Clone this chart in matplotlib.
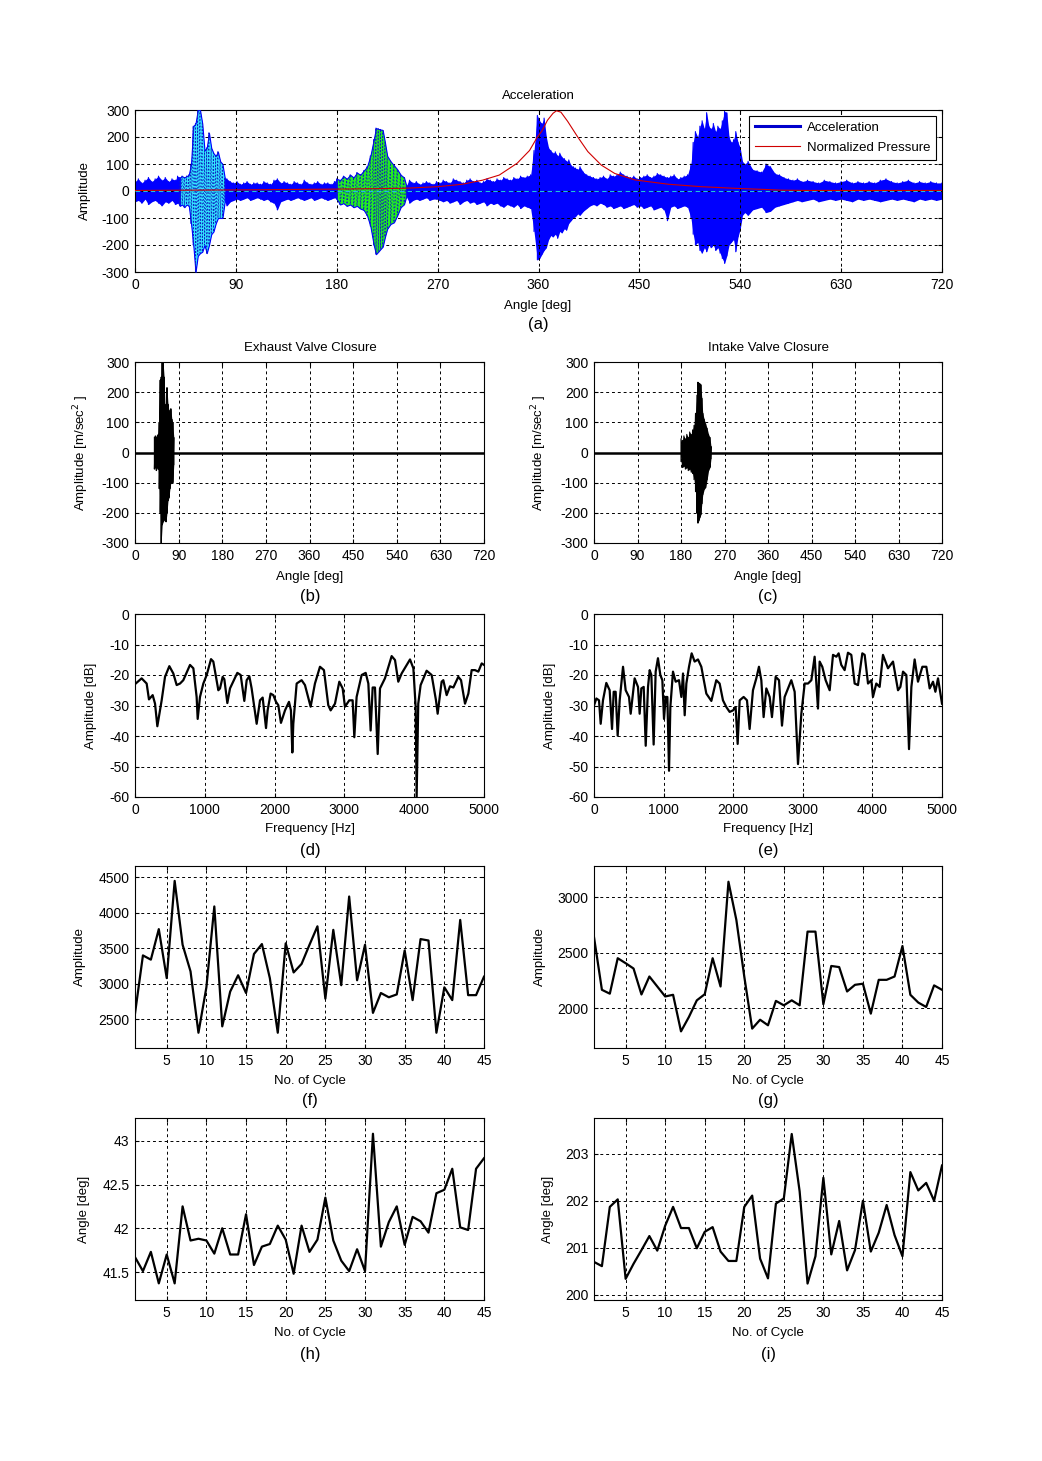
import numpy as np
import matplotlib
matplotlib.use("Agg")
import matplotlib.pyplot as plt
from matplotlib.lines import Line2D
from matplotlib.ticker import FormatStrFormatter

plt.rcParams['font.family'] = ['Liberation Sans', 'DejaVu Sans']
plt.rcParams['axes.unicode_minus'] = False
plt.rcParams['font.size'] = 9

# ---------------- data: panel (a) acceleration envelope ----------------
q1_angle = [0, 3, 6, 9, 12, 15, 18, 21, 24, 27, 30, 33, 36, 38]
q1_upper = [35, 45, 30, 40, 50, 35, 45, 55, 40, 50, 35, 45, 40, 55]
q1_lower = [-40, -35, -45, -30, -50, -40, -35, -45, -55, -40, -45, -35, -50, -45]

# exhaust valve closure window (also panel b)
evc_angle = [40, 42, 44, 46, 48, 50, 52, 54, 56, 58, 60, 62, 64, 66, 68, 70, 72, 74, 76, 78, 80]
evc_upper = [50, 55, 50, 55, 60, 100, 240, 250, 300, 300, 250, 150, 160, 215, 160, 140, 130, 145, 110, 100, 50]
evc_lower = [-55, -50, -60, -50, -55, -120, -200, -300, -240, -230, -225, -200, -230, -200, -160, -150, -120, -100, -100, -100, -40]

q2_angle = [82, 85, 88, 91, 94, 97, 100, 103, 106, 109,
            112, 115, 118, 121, 124, 127, 130, 133, 136, 139,
            142, 145, 148, 151, 154, 157, 160, 163, 166, 169,
            172, 175, 178]
q2_upper = [45, 35, 30, 35, 25, 30, 35, 25, 30, 30,
            25, 35, 30, 25, 40, 45, 30, 35, 30, 25,
            35, 30, 25, 40, 30, 25, 30, 35, 25, 30,
            30, 25, 35]
q2_lower = [-55, -40, -35, -30, -35, -30, -25, -35, -30, -25,
            -30, -35, -30, -40, -45, -70, -40, -35, -30, -35,
            -30, -25, -30, -35, -30, -25, -35, -30, -25, -30,
            -35, -30, -25]

# intake valve closure window (also panel c)
ivc_angle = [180, 183, 186, 189, 192, 195, 198, 201, 204, 207, 210, 213, 215, 217, 219, 221, 223, 225, 228, 231, 234, 237, 240, 242]
ivc_upper = [45, 40, 55, 45, 60, 50, 68, 60, 75, 90, 130, 190, 233, 230, 228, 225, 180, 130, 110, 95, 80, 60, 50, 20]
ivc_lower = [-30, -50, -45, -55, -50, -60, -55, -65, -70, -90, -130, -200, -234, -225, -215, -206, -170, -140, -122, -116, -90, -60, -49, -20]

q3_angle = [245, 248, 251, 254, 257, 260, 263, 266, 269, 272,
            275, 278, 281, 284, 287, 290, 293, 296, 299, 302,
            305, 308, 311, 314, 317, 320, 323, 326, 329, 332,
            335, 338, 341, 344, 347, 350, 353, 356]
q3_upper = [40, 30, 35, 25, 30, 35, 30, 25, 35, 30,
            40, 35, 30, 45, 40, 35, 30, 40, 45, 35,
            40, 30, 35, 45, 40, 35, 45, 40, 50, 45,
            40, 50, 45, 55, 50, 55, 60, 150]
q3_lower = [-45, -35, -30, -35, -30, -25, -35, -30, -30, -35,
            -40, -35, -45, -40, -35, -50, -40, -35, -45, -40,
            -50, -45, -40, -55, -45, -50, -45, -55, -60, -50,
            -55, -60, -50, -65, -55, -60, -65, -150]

b1_angle = [359, 361, 363, 365, 367, 369, 371, 373, 375, 377,
            379, 381, 383, 385, 387, 389, 391, 393, 395, 397,
            400, 403, 406, 409, 412, 415, 418, 421, 424, 427,
            430, 433, 436, 439, 442, 445, 448, 451, 454, 457,
            460, 463, 466, 469, 472, 475, 478, 481, 484, 487,
            490, 493, 496]
b1_upper = [280, 260, 250, 270, 200, 160, 150, 140, 145, 130,
            140, 125, 120, 110, 115, 95, 90, 85, 80, 90,
            70, 60, 55, 50, 45, 50, 55, 45, 60, 55,
            60, 70, 60, 55, 50, 55, 45, 50, 55, 60,
            50, 55, 65, 60, 55, 50, 55, 60, 45, 50,
            55, 60, 100]
b1_lower = [-255, -250, -235, -220, -210, -180, -165, -170, -160, -175,
            -150, -155, -140, -145, -120, -110, -100, -95, -85, -90,
            -75, -65, -55, -50, -55, -45, -50, -60, -55, -65,
            -60, -55, -65, -60, -55, -50, -60, -55, -65, -60,
            -55, -70, -65, -60, -70, -110, -60, -55, -65, -60,
            -55, -60, -100]

b2_angle = [498, 500, 502, 504, 506, 508, 510, 512, 514, 516,
            518, 520, 522, 524, 526, 528, 530, 532, 534, 536,
            538, 540, 542, 544]
b2_upper = [180, 220, 200, 240, 260, 230, 290, 240, 230, 250,
            220, 240, 230, 260, 295, 290, 200, 180, 190, 220,
            180, 160, 110, 100]
b2_lower = [-160, -200, -190, -220, -230, -210, -225, -200, -210, -200,
            -220, -210, -230, -250, -268, -240, -200, -190, -180, -225,
            -170, -140, -90, -80]

q4_angle = [547, 551, 555, 559, 563, 567, 571, 575, 579, 583,
            587, 591, 595, 600, 605, 610, 615, 620, 625, 630,
            635, 640, 645, 650, 655, 660, 665, 670, 675, 680,
            685, 690, 695, 700, 705, 710, 715, 720]
q4_upper = [110, 80, 75, 70, 100, 90, 65, 60, 50, 45,
            40, 45, 35, 40, 35, 30, 40, 35, 30, 35,
            40, 30, 35, 30, 35, 30, 40, 45, 35, 30,
            35, 40, 30, 35, 30, 35, 30, 30]
q4_lower = [-90, -70, -65, -60, -80, -75, -60, -55, -50, -45,
            -40, -35, -40, -35, -30, -40, -35, -30, -35, -30,
            -35, -40, -30, -35, -30, -35, -40, -35, -30, -35,
            -30, -35, -40, -30, -35, -30, -35, -30]

# normalized pressure
p_angle = [0, 90, 180, 240, 270, 292, 310, 325, 341, 352, 359, 363, 368, 373, 376, 380, 386, 395, 404, 416, 428, 446, 476, 505, 535, 560, 577, 600, 720]
p_value = [2, 4, 7, 10, 16, 25, 40, 59, 103, 150, 200, 222, 262, 288, 297, 292, 258, 200, 146, 96, 65, 41, 25, 16, 10, 6, 3, 2, 2]

# ---------------- panels d, e: spectra ----------------
d_freq = [0, 95, 167, 200, 253, 287, 320, 382, 430, 492, 549, 597, 645, 692, 788, 836, 883, 898, 931, 979,
          1027, 1089, 1122, 1194, 1218, 1256, 1280, 1323, 1361, 1466, 1514, 1566, 1600, 1638, 1671, 1743, 1791, 1829, 1877, 1900,
          1943, 1982, 2020, 2053, 2091, 2149, 2206, 2234, 2254, 2268, 2316, 2387, 2435, 2516, 2578, 2650, 2707, 2769, 2803, 2865,
          2927, 2975, 3008, 3070, 3118, 3142, 3175, 3247, 3305, 3343, 3376, 3405, 3438, 3477, 3510, 3581, 3677, 3725, 3772, 3820,
          3940, 3988, 4021, 4035, 4058, 4092, 4178, 4250, 4312, 4336, 4393, 4417, 4465, 4513, 4561, 4632, 4671, 4728, 4776, 4823,
          4871, 4919, 4967, 5000]
d_db = [-23.0, -21.1, -22.8, -28.0, -26.6, -29.4, -36.8, -28.3, -20.6, -17.1, -19.5, -23.3, -22.8, -21.7, -16.7, -17.8, -27.2, -34.4, -27.2, -22.8,
        -20.0, -14.8, -15.6, -25.0, -24.4, -20.6, -21.4, -29.2, -24.4, -19.3, -20.0, -28.5, -21.7, -20.4, -24.4, -36.0, -28.3, -27.4, -37.4, -31.6,
        -26.1, -26.6, -28.8, -29.9, -35.7, -31.6, -28.8, -31.6, -45.4, -36.0, -22.8, -21.7, -23.3, -30.4, -22.8, -17.3, -18.4, -29.9, -31.6, -29.4,
        -22.2, -24.4, -30.4, -28.3, -28.3, -40.4, -27.2, -20.0, -19.3, -22.8, -38.2, -24.1, -24.1, -45.9, -24.4, -21.1, -13.8, -15.1, -22.2, -19.5,
        -14.9, -17.8, -30.5, -60.0, -29.4, -23.3, -18.6, -20.0, -28.3, -32.7, -22.2, -21.7, -26.6, -23.7, -24.1, -20.6, -21.7, -29.4, -26.1, -18.4,
        -18.4, -18.9, -16.2, -16.7]

e_freq = [0, 34, 72, 96, 129, 177, 225, 259, 283, 311, 340, 369, 417, 455, 503, 527, 584, 632, 656, 680,
          714, 743, 776, 800, 824, 857, 886, 919, 953, 982, 1006, 1030, 1054, 1078, 1097, 1135, 1173, 1221, 1255, 1279,
          1303, 1327, 1365, 1403, 1446, 1494, 1542, 1614, 1686, 1757, 1805, 1853, 1901, 1949, 1997, 2035, 2064, 2093, 2150, 2198,
          2236, 2284, 2332, 2370, 2404, 2437, 2476, 2524, 2557, 2610, 2658, 2701, 2739, 2835, 2883, 2931, 2979, 3027, 3075, 3123,
          3170, 3218, 3242, 3280, 3328, 3386, 3434, 3482, 3515, 3553, 3601, 3649, 3697, 3745, 3793, 3855, 3889, 3937, 3985, 4008,
          4056, 4104, 4152, 4224, 4296, 4368, 4402, 4440, 4488, 4526, 4560, 4607, 4655, 4718, 4775, 4823, 4871, 4905, 4943, 5000]
e_db = [-30.0, -27.7, -28.3, -36.0, -28.3, -22.6, -25.0, -37.7, -25.5, -25.5, -39.9, -28.3, -17.3, -25.0, -27.2, -32.7, -21.1, -23.9, -32.7, -24.4,
        -23.9, -43.2, -23.9, -18.4, -20.0, -42.8, -18.9, -14.5, -20.0, -21.7, -34.4, -27.2, -27.2, -51.4, -30.5, -18.9, -22.2, -21.7, -27.2, -19.5,
        -33.2, -22.8, -17.3, -12.9, -15.6, -14.9, -17.3, -26.1, -28.5, -21.7, -22.8, -28.3, -30.5, -32.1, -31.6, -30.5, -42.6, -28.3, -27.2, -28.3,
        -37.7, -25.0, -21.1, -17.3, -21.7, -33.8, -24.4, -27.2, -33.8, -20.6, -21.7, -36.6, -27.2, -21.7, -25.5, -49.2, -32.7, -22.8, -22.8, -21.7,
        -14.0, -31.0, -15.6, -17.3, -21.7, -25.0, -13.4, -14.0, -12.9, -16.7, -18.4, -12.7, -13.4, -22.8, -23.3, -12.9, -13.4, -22.8, -21.7, -27.2,
        -22.8, -23.9, -13.4, -17.8, -15.6, -25.0, -23.9, -18.9, -20.0, -44.3, -23.9, -14.9, -22.2, -17.3, -17.3, -24.4, -22.2, -25.5, -21.1, -29.4]

# ---------------- panels f-i: per cycle ----------------
cycles = list(range(1, 46))
f_amp = [2580, 3400, 3340, 3770, 3080, 4450, 3550, 3175, 2310, 2950,
         4090, 2400, 2890, 3120, 2870, 3420, 3560, 3080, 2310, 3570,
         3160, 3280, 3550, 3810, 2790, 3760, 2980, 4230, 3050, 3550,
         2590, 2870, 2810, 2850, 3470, 2770, 3630, 3610, 2310, 2950,
         2770, 3900, 2840, 2840, 3100]
g_amp = [2640, 2165, 2130, 2450, 2405, 2357, 2123, 2285, 2195, 2105,
         2120, 1790, 1920, 2070, 2125, 2450, 2195, 3140, 2795, 2285,
         1815, 1895, 1845, 2065, 2025, 2070, 2025, 2690, 2690, 2035,
         2380, 2370, 2150, 2210, 2220, 1950, 2255, 2255, 2285, 2560,
         2120, 2050, 2010, 2205, 2165]
h_ang = [41.67, 41.51, 41.73, 41.37, 41.70, 41.37, 42.25, 41.86, 41.88, 41.86,
         41.71, 42.00, 41.70, 41.70, 42.16, 41.58, 41.79, 41.82, 42.03, 41.87,
         41.48, 42.03, 41.73, 41.87, 42.35, 41.86, 41.63, 41.51, 41.76, 41.51,
         43.08, 41.79, 42.07, 42.25, 41.81, 42.13, 42.08, 41.95, 42.40, 42.44,
         42.68, 42.01, 41.98, 42.68, 42.80]
i_ang = [200.70, 200.61, 201.87, 202.03, 200.34, 200.66, 200.95, 201.25, 200.94, 201.47,
         201.87, 201.42, 201.42, 200.99, 201.34, 201.44, 200.92, 200.72, 200.72, 201.87,
         202.11, 200.77, 200.35, 201.94, 202.05, 203.42, 202.20, 200.24, 200.82, 202.49,
         200.86, 201.57, 200.52, 200.95, 202.00, 200.92, 201.32, 201.91, 201.27, 200.82,
         202.61, 202.22, 202.38, 202.00, 202.75]

angle_ticks = [0, 90, 180, 270, 360, 450, 540, 630, 720]
amp_ticks = [-300, -200, -100, 0, 100, 200, 300]

# ---------------- figure ----------------
W, H = 1042, 1461
fig = plt.figure(figsize=(W / 100, H / 100), dpi=100)
TICK_FS = 10
LAB_FS = 9.5


def add_ax(l, t, r, b):
    return fig.add_axes([l / W, 1 - b / H, (r - l) / W, (b - t) / H])


def ftext(x, y, s, **kw):
    fig.text(x / W, 1 - y / H, s, ha='center', va='center', **kw)


def style(ax, l, r, ylab_x):
    ax.grid(True, color='black', linestyle=(0, (3, 3)), linewidth=0.7)
    ax.set_axisbelow(False)
    ax.tick_params(direction='in', length=3, top=True, right=True, labelsize=TICK_FS, pad=4)
    for sp in ax.spines.values():
        sp.set_linewidth(0.8)
    ax.yaxis.set_label_coords((ylab_x - l) / (r - l), 0.5)


def zig(a, u, lo):
    x = np.repeat(np.asarray(a, float), 2)
    y = np.empty(2 * len(a))
    y[0::2] = u
    y[1::2] = lo
    return x, y


# ---- (a)
ax = add_ax(135, 110, 942, 272)
acc_angle = q1_angle + evc_angle + q2_angle + ivc_angle + q3_angle + b1_angle + b2_angle + q4_angle
acc_upper = q1_upper + evc_upper + q2_upper + ivc_upper + q3_upper + b1_upper + b2_upper + q4_upper
acc_lower = q1_lower + evc_lower + q2_lower + ivc_lower + q3_lower + b1_lower + b2_lower + q4_lower

ax.fill_between(acc_angle, acc_lower, acc_upper, color='#0000ff', lw=0, zorder=2)
zx, zy = zig(acc_angle, acc_upper, acc_lower)
ax.plot(zx, zy, color='#0000ff', lw=0.8, zorder=2)

for ang, up, lo, col in [(evc_angle, evc_upper, evc_lower, '#33e6ff'),
                         (ivc_angle, ivc_upper, ivc_lower, '#22ee22')]:
    ax.fill_between(ang, lo, up, facecolor=col, edgecolor='#0000ff', lw=0.8, zorder=3)
    zx, zy = zig(ang, up, lo)
    ax.plot(zx, zy, color='#1020c0', lw=0.6, ls=(0, (2, 2)), zorder=3)

ax.axhline(0, color='#20c0e0', lw=0.8, ls=(0, (4, 3)), zorder=4)
ax.plot(p_angle, p_value, color='#d00000', lw=0.8, zorder=5)
ax.set_xlim(0, 720)
ax.set_ylim(-300, 300)
ax.set_xticks(angle_ticks)
ax.set_yticks(amp_ticks)
ax.set_ylabel('Amplitude', fontsize=LAB_FS)
style(ax, 135, 942, 91)
leg = ax.legend(handles=[Line2D([], [], color='#0000cc', lw=2.2),
                         Line2D([], [], color='#d00000', lw=0.8)],
                labels=['Acceleration', 'Normalized Pressure'],
                loc='upper right', fancybox=False, edgecolor='black', framealpha=1,
                fontsize=9.5, borderaxespad=0.45, handlelength=3.4, borderpad=0.45,
                labelspacing=0.55, handletextpad=0.5)
leg.get_frame().set_linewidth(0.8)
leg.set_zorder(10)
ftext(538, 96, 'Acceleration', fontsize=LAB_FS)
ftext(538, 306, 'Angle [deg]', fontsize=LAB_FS)
ftext(538, 325, '(a)', fontsize=12)

# ---- (b), (c)
for (l, r, cx, ylx, title, letter, ang, up, lo) in [
        (135, 484, 310, 91, 'Exhaust Valve Closure', '(b)', evc_angle, evc_upper, evc_lower),
        (594, 942, 768, 549, 'Intake Valve Closure', '(c)', ivc_angle, ivc_upper, ivc_lower)]:
    ax = add_ax(l, 362, r, 543)
    ax.axhline(0, color='black', lw=1.8, zorder=3)
    ax.fill_between(ang, lo, up, color='black', lw=0, zorder=3)
    zx, zy = zig(ang, up, lo)
    ax.plot(zx, zy, color='black', lw=0.8, zorder=3)
    ax.set_xlim(0, 720)
    ax.set_ylim(-300, 300)
    ax.set_xticks(angle_ticks)
    ax.set_yticks(amp_ticks)
    ax.set_ylabel(r'Amplitude [m/sec$^2$ ]', fontsize=LAB_FS)
    style(ax, l, r, ylx)
    ftext(cx, 348, title, fontsize=LAB_FS)
    ftext(cx, 577, 'Angle [deg]', fontsize=LAB_FS)
    ftext(cx, 597, letter, fontsize=12)

# ---- (d), (e)
for (l, r, cx, ylx, letter, fr, db) in [
        (135, 484, 310, 97, '(d)', d_freq, d_db),
        (594, 942, 768, 556, '(e)', e_freq, e_db)]:
    ax = add_ax(l, 614, r, 797)
    ax.plot(fr, db, color='black', lw=1.6, zorder=3)
    ax.set_xlim(0, 5000)
    ax.set_ylim(-60, 0)
    ax.set_xticks([0, 1000, 2000, 3000, 4000, 5000])
    ax.set_yticks([-60, -50, -40, -30, -20, -10, 0])
    ax.set_ylabel('Amplitude [dB]', fontsize=LAB_FS)
    style(ax, l, r, ylx)
    ftext(cx, 829, 'Frequency [Hz]', fontsize=LAB_FS)
    ftext(cx, 850, letter, fontsize=12)

# ---- (f), (g)
for (l, r, cx, ylx, letter, vals, ylim, yt) in [
        (135, 484, 310, 86, '(f)', f_amp, (2095, 4660), [2500, 3000, 3500, 4000, 4500]),
        (594, 942, 768, 546, '(g)', g_amp, (1640, 3282), [2000, 2500, 3000])]:
    ax = add_ax(l, 866, r, 1048)
    ax.plot(cycles, vals, color='black', lw=1.6, zorder=3)
    ax.set_xlim(1, 45)
    ax.set_ylim(*ylim)
    ax.set_xticks([5, 10, 15, 20, 25, 30, 35, 40, 45])
    ax.set_yticks(yt)
    ax.set_ylabel('Amplitude', fontsize=LAB_FS)
    style(ax, l, r, ylx)
    ftext(cx, 1081, 'No. of Cycle', fontsize=LAB_FS)
    ftext(cx, 1101, letter, fontsize=12)

# ---- (h), (i)
for (l, r, cx, ylx, letter, vals, ylim, yt) in [
        (135, 484, 310, 90, '(h)', h_ang, (41.18, 43.26), [41.5, 42, 42.5, 43]),
        (594, 942, 768, 554, '(i)', i_ang, (199.89, 203.76), [200, 201, 202, 203])]:
    ax = add_ax(l, 1118, r, 1300)
    ax.plot(cycles, vals, color='black', lw=1.6, zorder=3)
    ax.set_xlim(1, 45)
    ax.set_ylim(*ylim)
    ax.set_xticks([5, 10, 15, 20, 25, 30, 35, 40, 45])
    ax.set_yticks(yt)
    ax.yaxis.set_major_formatter(FormatStrFormatter('%g'))
    ax.set_ylabel('Angle [deg]', fontsize=LAB_FS)
    style(ax, l, r, ylx)
    ftext(cx, 1333, 'No. of Cycle', fontsize=LAB_FS)
    ftext(cx, 1354, letter, fontsize=12)

fig.savefig('out.png', dpi=100, facecolor='white')
